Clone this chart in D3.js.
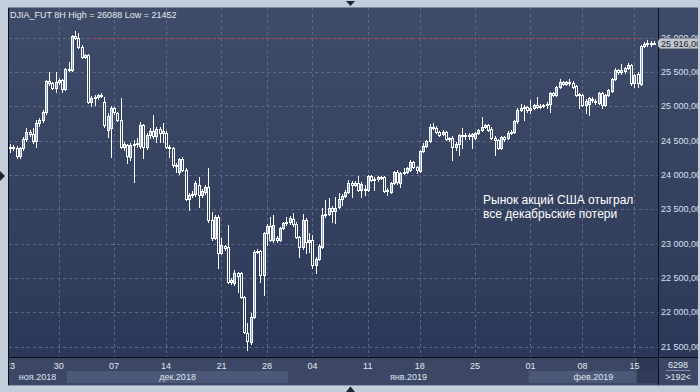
<!DOCTYPE html>
<html>
<head>
<meta charset="utf-8">
<script src="https://cdn.jsdelivr.net/npm/d3@7"></script>
<style>
  body { margin: 0; background: #c4cdda; }
  svg { display: block; font-family: "Liberation Sans", Arial, sans-serif; }
</style>
</head>
<body>
<svg id="chart" width="700" height="392"></svg>
<script>
// 8H bars, DJIA futures, late Nov 2018 .. 15 Feb 2019
var open = [24391,24406,24391,24275,24391,24522,24624,24595,24493,24755,24799,24915,25367,25338,25265,25352,25381,25250,25541,25527,
  26022,25993,25862,25716,25745,25061,25119,25134,25163,25061,24653,24682,24974,24901,24799,24406,24435,24260,24435,24449,
  24420,24726,24406,24580,24639,24566,24668,24610,24610,24406,24391,24144,24042,24231,24071,23648,23707,23721,23852,23707,
  23750,23823,23343,23081,23386,22862,22964,22950,22440,22426,22571,22571,22222,21698,21566,21930,22877,22891,22542,23154,
  23255,23052,23081,23052,23226,23299,23314,23357,23285,23095,22950,23343,23022,23052,22688,22775,22950,23416,23430,23517,
  23474,23532,23648,23692,23750,23881,23852,23881,23780,23794,23780,23983,23925,23940,23969,23969,23765,23750,23881,24042,
  23881,24027,24042,24071,24187,24114,24056,24347,24420,24493,24697,24682,24624,24595,24624,24522,24537,24406,24449,24580,
  24566,24580,24566,24537,24610,24653,24697,24726,24668,24537,24508,24391,24551,24537,24610,24624,24784,24944,24974,24988,
  24944,24974,25017,24988,25003,25017,25032,25192,25163,25279,25352,25323,25352,25338,25294,25163,25163,25017,25032,25105,
  25075,25046,25192,25017,25163,25221,25396,25527,25498,25512,25556,25600,25338,25469,25323,25876,25905,25920,25905];
var high = [24449,24435,24420,24406,24551,24682,24653,24682,24799,24828,24944,25381,25498,25352,25498,25410,25396,25556,25643,26036,
  26088,26066,25891,25760,25760,25148,25163,25177,25192,25134,24901,25003,24988,24915,25119,24478,24449,24464,24508,24537,
  24770,24741,24610,24682,24872,24697,24697,24755,24639,24435,24406,24173,24246,24260,24100,23736,23765,23911,23969,23794,
  23852,24100,23459,23416,23416,23081,22979,23270,22498,22615,22586,22586,22236,21843,21989,22906,22921,22906,23168,23285,
  23386,23416,23110,23241,23314,23386,23401,23445,23314,23110,23430,23372,23154,23124,22804,22993,23517,23634,23663,23547,
  23678,23736,23721,23780,23925,23911,23911,23983,23896,23852,23998,23998,23969,23983,23983,23983,23809,23896,24056,24071,
  24042,24100,24114,24216,24202,24129,24362,24464,24508,24741,24755,24711,24639,24653,24639,24551,24566,24478,24595,24682,
  24610,24610,24610,24624,24668,24842,24741,24741,24697,24566,24522,24566,24566,24639,24653,24799,24974,25032,25017,25003,
  25090,25032,25134,25032,25032,25061,25206,25206,25294,25396,25367,25367,25396,25367,25308,25192,25177,25105,25134,25134,
  25105,25206,25206,25177,25250,25410,25556,25541,25614,25570,25629,25614,25469,25498,25891,25935,25964,25949,25949];
var low = [24333,24362,24246,24246,24362,24493,24566,24464,24406,24711,24770,24886,25308,25250,25206,25323,25206,25236,25512,25512,
  25978,25847,25702,25702,25046,25003,25017,25105,25134,24697,24551,24260,24886,24784,24391,24362,24173,24216,23896,24406,
  24391,24246,24377,24537,24537,24478,24478,24478,24391,24260,24114,24042,24013,24056,23634,23488,23678,23692,23532,23678,
  23721,23314,23052,23066,22644,22848,22906,22426,22411,22396,22294,22207,21698,21452,21537,21916,22862,22440,22251,22979,
  23037,23022,23022,23037,23212,23270,23285,23255,23081,22804,22921,22862,22877,22644,22571,22760,22935,23386,23416,23314,
  23299,23517,23561,23678,23736,23678,23838,23765,23678,23707,23765,23911,23780,23911,23940,23750,23707,23736,23867,23867,
  23823,24013,24027,24056,24100,24027,24042,24333,24406,24478,24668,24610,24566,24580,24508,24493,24216,24362,24289,24391,
  24522,24522,24391,24522,24595,24639,24682,24639,24522,24289,24377,24377,24493,24522,24595,24610,24755,24930,24799,24915,
  24901,24959,24974,24974,24988,24974,24915,25148,25148,25265,25308,25308,25308,25265,25148,24974,25003,24901,24872,25061,
  25032,25032,24974,25003,25148,25206,25381,25469,25469,25483,25541,25308,25279,25279,25308,25862,25876,25876,25905];
var close = [24406,24391,24275,24391,24522,24624,24595,24493,24755,24799,24915,25367,25338,25265,25352,25381,25250,25541,25527,26022,
  25993,25862,25716,25745,25061,25119,25134,25163,25148,24726,24857,24974,24915,24799,24406,24449,24275,24435,24449,24464,
  24726,24406,24580,24639,24566,24668,24610,24639,24406,24391,24144,24129,24231,24071,23648,23707,23721,23881,23707,23765,
  23823,23343,23081,23386,22862,22979,22935,22440,22469,22571,22527,22222,21712,21581,21930,22877,22891,22542,23154,23255,
  23052,23270,23052,23226,23299,23314,23372,23285,23095,22950,23343,23022,23052,22688,22775,22964,23416,23430,23517,23474,
  23517,23648,23692,23750,23881,23852,23881,23780,23867,23780,23983,23925,23940,23969,23954,23765,23780,23881,24042,23896,
  24027,24042,24100,24187,24114,24071,24347,24420,24493,24697,24682,24624,24580,24624,24522,24537,24406,24449,24580,24566,
  24580,24566,24595,24610,24653,24697,24726,24653,24537,24508,24391,24551,24522,24610,24624,24784,24944,24974,24988,24944,
  24974,25017,24988,25003,25017,25032,25192,25163,25279,25352,25323,25352,25338,25279,25163,25177,25017,25075,25119,25090,
  25061,25192,25017,25163,25236,25396,25527,25498,25527,25556,25600,25338,25454,25338,25876,25905,25920,25905,25916];

var priceTicks = [21500, 22000, 22500, 23000, 23500, 24000, 24500, 25000, 25500, 26000];
var dayIdx = [0, 15, 32, 48, 65, 79, 93, 110, 126, 143, 160, 176, 192];
var dayLabels = ["23", "30", "07", "14", "21", "28", "04", "11", "18", "25", "01", "08", "15"];
var monthStart = [0, 18, 86, 160];
var monthLabels = ["ноя.2018", "дек.2018", "янв.2019", "фев.2019"];
var lastPrice = 25916, alertLevel = 26000;
var title = "DJIA_FUT 8H High = 26088 Low = 21452";
var note = ["Рынок акций США отыграл", "все декабрьские потери"];

(function() {
  var svg = d3.select("#chart"),
    plot = {left: 8, top: 7, right: 658, bottom: 357},
    axisBottom = 385, panelRight = 698,
    n = close.length,
    fs = 9;

  var x = d3.scaleLinear().domain([0, n - 1]).range([10, 654]);
  var y = d3.scaleLinear().domain([21500, 26000]).range([346.5, 37.5]);

  var ru = d3.formatLocale({decimal: ",", thousands: " ", grouping: [3], currency: ["", ""]});
  var fmt = ru.format(",.2f");

  var defs = svg.append("defs");
  var grad = defs.append("linearGradient").attr("id", "bg")
    .attr("gradientUnits", "userSpaceOnUse")
    .attr("x1", 0).attr("y1", plot.top).attr("x2", 0).attr("y2", plot.bottom);
  grad.append("stop").attr("offset", 0).attr("stop-color", "#3f4c69");
  grad.append("stop").attr("offset", 1).attr("stop-color", "#2b3857");
  defs.append("clipPath").attr("id", "plotclip").append("rect")
    .attr("x", plot.left + 1).attr("y", plot.top + 1)
    .attr("width", plot.right - plot.left - 1).attr("height", plot.bottom - plot.top - 1);
  defs.append("clipPath").attr("id", "dayclip").append("rect")
    .attr("x", 9.5).attr("y", plot.bottom).attr("width", plot.right - 9.5).attr("height", 30);
  defs.append("clipPath").attr("id", "rclip").append("rect")
    .attr("x", plot.right).attr("y", 0).attr("width", panelRight - plot.right).attr("height", plot.bottom);

  // outer frame
  svg.append("rect").attr("width", 700).attr("height", 392).attr("fill", "#c4cdda");

  // panels
  svg.append("rect").attr("x", plot.left).attr("y", plot.top)
    .attr("width", panelRight - plot.left).attr("height", plot.bottom - plot.top)
    .attr("fill", "url(#bg)");
  svg.append("rect").attr("x", plot.left).attr("y", plot.bottom)
    .attr("width", panelRight - plot.left).attr("height", axisBottom - plot.bottom)
    .attr("fill", "#3b4765");

  // month bands
  var bands = svg.append("g");
  monthStart.forEach(function(s, k) {
    var x0 = k === 0 ? plot.left : x(s) - 1.6,
      x1 = k < monthStart.length - 1 ? x(monthStart[k + 1]) - 1.6 : plot.right;
    if (k % 2 === 1) {
      bands.append("rect").attr("x", x0).attr("y", 371).attr("width", x1 - x0).attr("height", 12)
        .attr("fill", "#4b5877");
    }
    bands.append("text").attr("x", (x0 + x1) / 2).attr("y", 380)
      .attr("text-anchor", "middle").attr("font-size", fs).attr("fill", "#dfe5ee")
      .text(monthLabels[k]);
  });
  // current week highlight
  var hx = x(dayIdx[dayIdx.length - 1]) + 1;
  svg.append("rect").attr("x", hx).attr("y", plot.bottom).attr("width", plot.right - hx)
    .attr("height", axisBottom - plot.bottom - 2).attr("fill", "#2c3651").attr("opacity", 0.85);
  svg.append("line").attr("x1", hx + 0.5).attr("x2", hx + 0.5).attr("y1", plot.bottom).attr("y2", axisBottom - 2)
    .attr("stroke", "#56637f");

  // grid
  var grid = svg.append("g").attr("stroke", "#5b6a89").attr("stroke-dasharray", "3,3")
    .attr("shape-rendering", "crispEdges");
  grid.selectAll("line.h").data(priceTicks).join("line").attr("class", "h")
    .attr("x1", plot.left + 1).attr("x2", plot.right)
    .attr("y1", function(d) { return Math.round(y(d)) + 0.5; })
    .attr("y2", function(d) { return Math.round(y(d)) + 0.5; });
  grid.selectAll("line.v").data(dayIdx.slice(1)).join("line").attr("class", "v")
    .attr("x1", function(d) { return Math.round(x(d)) + 0.5; })
    .attr("x2", function(d) { return Math.round(x(d)) + 0.5; })
    .attr("y1", plot.top + 1).attr("y2", plot.bottom);

  // alert line
  svg.append("line").attr("x1", 93).attr("x2", 640)
    .attr("y1", Math.round(y(alertLevel)) + 0.5).attr("y2", Math.round(y(alertLevel)) + 0.5)
    .attr("stroke", "#c8323c").attr("stroke-dasharray", "2,2").attr("shape-rendering", "crispEdges");

  // candles
  var cg = svg.append("g").attr("clip-path", "url(#plotclip)").attr("shape-rendering", "crispEdges");
  var bars = cg.selectAll("g").data(d3.range(n)).join("g");
  bars.append("line")
    .attr("x1", function(i) { return Math.round(x(i)) + 0.5; })
    .attr("x2", function(i) { return Math.round(x(i)) + 0.5; })
    .attr("y1", function(i) { return Math.round(y(high[i])); })
    .attr("y2", function(i) { return Math.round(y(low[i])) + 1; })
    .attr("stroke", "#ffffff");
  bars.append("rect")
    .attr("x", function(i) { return Math.round(x(i)) - 0.5; })
    .attr("width", 2)
    .attr("y", function(i) { return Math.round(y(Math.max(open[i], close[i]))) + 0.5; })
    .attr("height", function(i) {
      return Math.max(1, Math.round(y(Math.min(open[i], close[i]))) - Math.round(y(Math.max(open[i], close[i]))));
    })
    .attr("fill", function(i) { return close[i] > open[i] ? "#8da7d6" : "url(#bg)"; })
    .attr("stroke", "#ffffff");

  // borders
  var br = svg.append("g").attr("stroke", "#0c1018").attr("shape-rendering", "crispEdges");
  br.append("line").attr("x1", plot.left + 0.5).attr("x2", plot.left + 0.5).attr("y1", plot.top).attr("y2", axisBottom);
  br.append("line").attr("x1", plot.right + 0.5).attr("x2", plot.right + 0.5).attr("y1", plot.top).attr("y2", axisBottom);
  br.append("line").attr("x1", plot.left).attr("x2", panelRight).attr("y1", plot.bottom + 0.5).attr("y2", plot.bottom + 0.5);
  svg.append("line").attr("x1", plot.left).attr("x2", panelRight).attr("y1", plot.top + 0.5).attr("y2", plot.top + 0.5)
    .attr("stroke", "#7d8aa3").attr("shape-rendering", "crispEdges");
  svg.append("line").attr("x1", plot.left).attr("x2", panelRight).attr("y1", axisBottom + 0.5).attr("y2", axisBottom + 0.5)
    .attr("stroke", "#8e9ab0").attr("shape-rendering", "crispEdges");

  // day labels
  svg.append("g").attr("clip-path", "url(#dayclip)")
    .selectAll("text").data(dayIdx).join("text")
    .attr("x", function(d) { return x(d); }).attr("y", 369)
    .attr("text-anchor", "middle").attr("font-size", fs).attr("fill", "#e2e7ef")
    .text(function(d, k) { return dayLabels[k]; });

  // price axis
  var ra = svg.append("g").attr("clip-path", "url(#rclip)");
  ra.selectAll("text").data(priceTicks).join("text")
    .attr("x", 661).attr("y", function(d) { return y(d) + 3.3; })
    .attr("font-size", fs).attr("fill", "#d9e1ef")
    .text(function(d) { return fmt(d); });
  var ly = Math.round(y(lastPrice));
  ra.append("path")
    .attr("d", "M656," + (ly + 0.5) + "L660," + (ly - 4.5) + "H700V" + (ly + 5.5) + "H660Z")
    .attr("fill", "#c3c7cf").attr("stroke", "#8c919a");
  ra.append("text").attr("x", 661).attr("y", ly + 3.5)
    .attr("font-size", fs).attr("fill", "#1a1e26")
    .text(fmt(lastPrice));

  // corner box
  svg.append("text").attr("x", 678).attr("y", 368).attr("text-anchor", "middle")
    .attr("font-size", fs).attr("fill", "#e2e7ef").text("6298");
  svg.append("line").attr("x1", 666).attr("x2", 690).attr("y1", 370.5).attr("y2", 370.5)
    .attr("stroke", "#7f8ca6").attr("shape-rendering", "crispEdges");
  svg.append("text").attr("x", 678).attr("y", 380).attr("text-anchor", "middle")
    .attr("font-size", fs).attr("fill", "#e2e7ef").text(">192<");

  // title and note
  svg.append("text").attr("x", 10).attr("y", 18)
    .attr("font-size", fs).attr("fill", "#e6eaf1").text(title);
  svg.append("g").selectAll("text").data(note).join("text")
    .attr("x", 483).attr("y", function(d, k) { return 204 + k * 14; })
    .attr("font-size", 12).attr("fill", "#ffffff")
    .text(function(d) { return d; });

  // splitter markers
  var mk = svg.append("g").attr("fill", "#1c2230");
  mk.append("path").attr("d", "M346,1H355L350.5,6Z");
  mk.append("path").attr("d", "M346,392H355L350.5,386.5Z");
  mk.append("path").attr("d", "M0,171V181L5,176Z");
})();
</script>
</body>
</html>
